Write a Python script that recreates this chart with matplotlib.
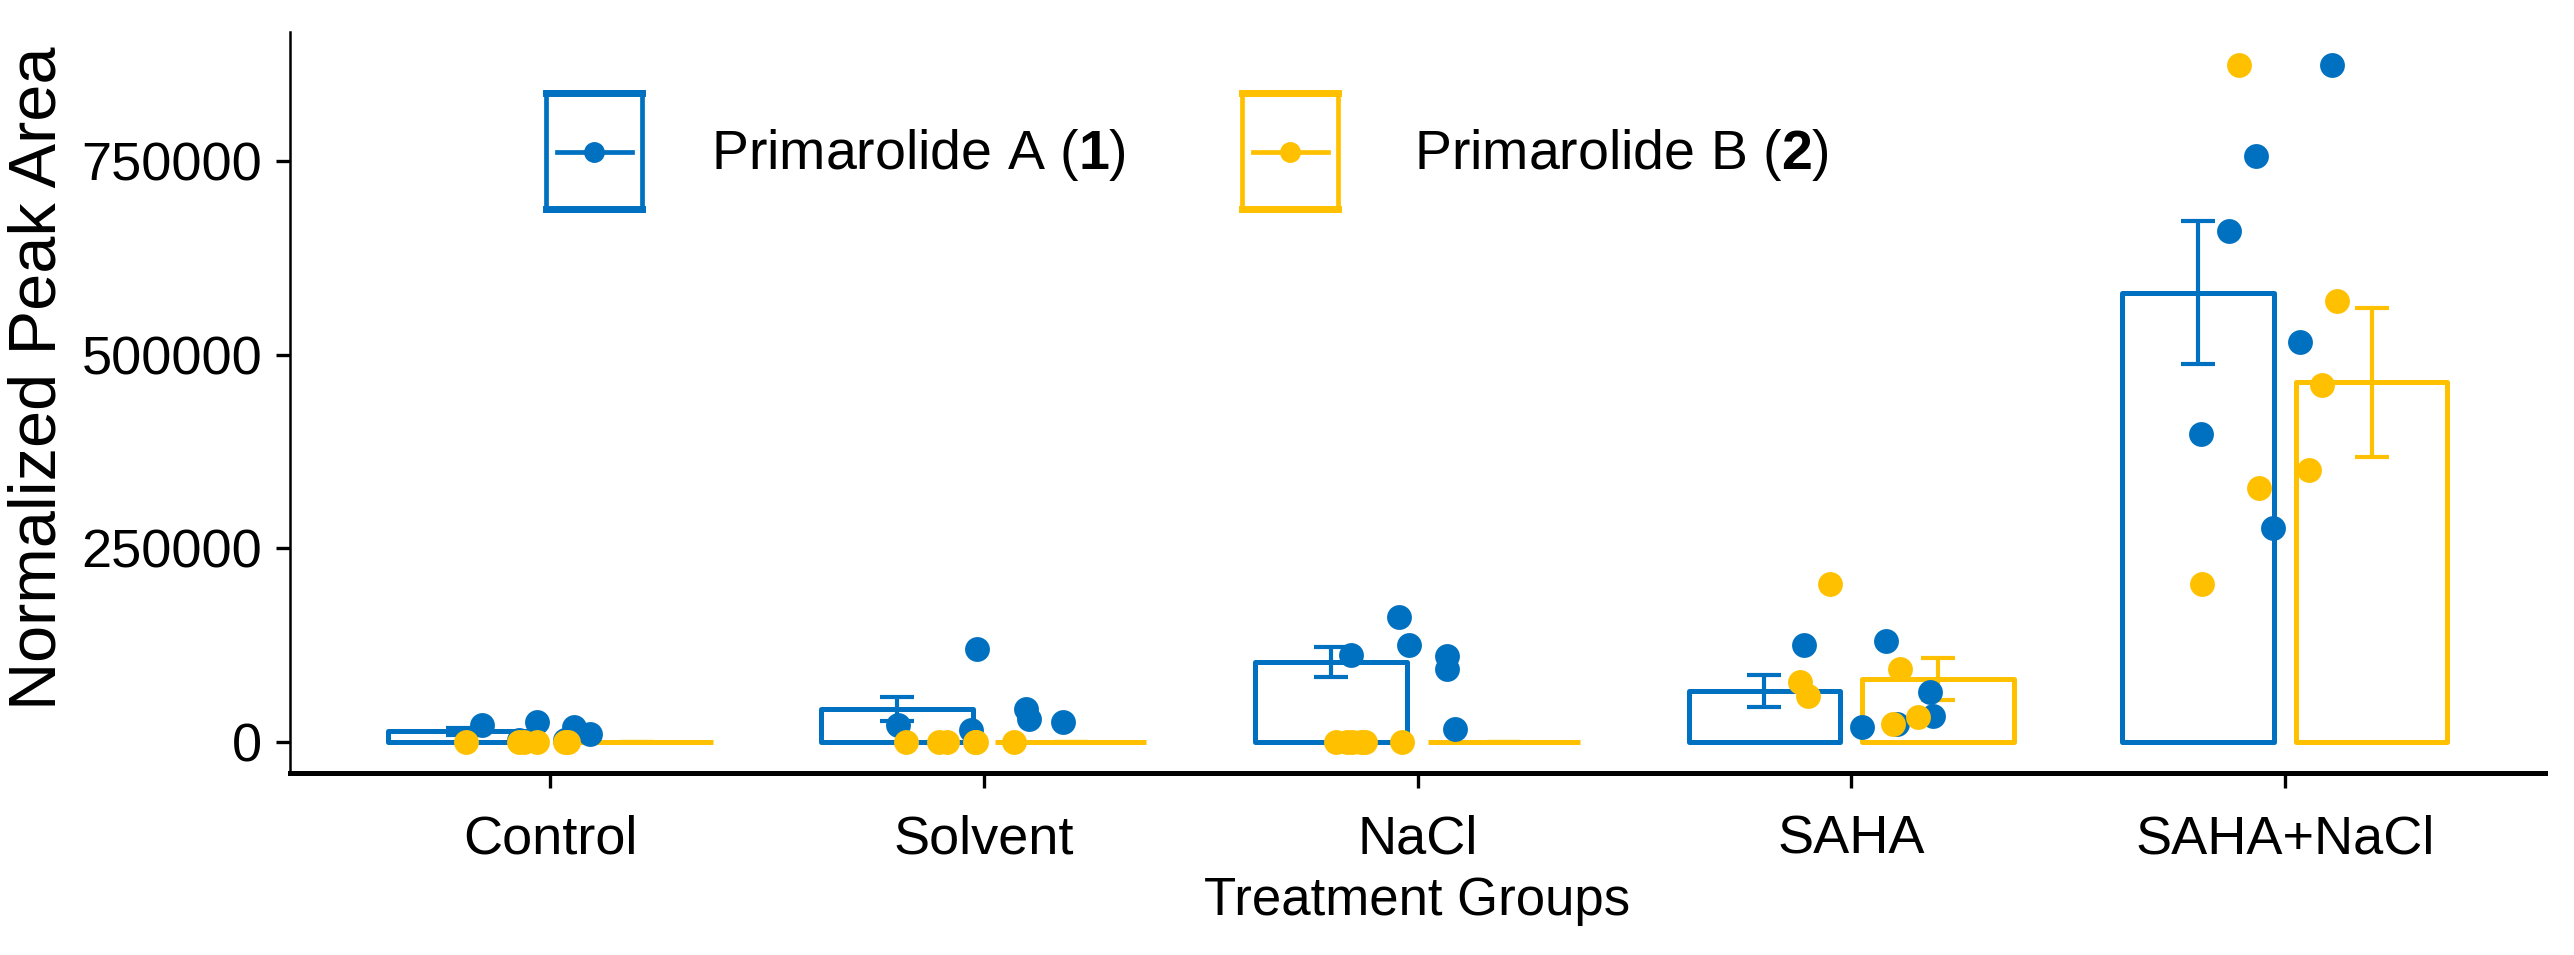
import numpy as np
import matplotlib.pyplot as plt
import matplotlib.ticker as ticker
from matplotlib.patches import Rectangle
from matplotlib.lines import Line2D

plt.rcParams["font.family"] = ["Liberation Sans", "DejaVu Sans"]
plt.rcParams["mathtext.fontset"] = "custom"
plt.rcParams["mathtext.rm"] = "Liberation Sans"
plt.rcParams["mathtext.bf"] = "Liberation Sans:bold"

groups = ["Control", "Solvent", "NaCl", "SAHA", "SAHA+NaCl"]

# replicate values (jittered points)
prim_a_values = [
    [22000, 26000, 19000, 10000, 3000, 2000],
    [120000, 22000, 15000, 43000, 30000, 26000],
    [161000, 125000, 111000, 94000, 113000, 17000],
    [125000, 131000, 19000, 64000, 34000, 23000],
    [874000, 757000, 660000, 517000, 398000, 276000],
]
prim_a_jitter = [
    [-0.158, -0.031, 0.054, 0.092, 0.035, -0.073],
    [-0.015, -0.198, -0.030, 0.097, 0.105, 0.182],
    [-0.042, -0.020, 0.068, 0.068, -0.154, 0.087],
    [-0.109, 0.080, 0.024, 0.181, 0.189, 0.105],
    [0.108, -0.067, -0.129, 0.034, -0.193, -0.028],
]
prim_b_values = [
    [0, 0, 0, 0, 0, 0],
    [0, 0, 0, 0, 0, 0],
    [0, 0, 0, 0, 0, 0],
    [204000, 94000, 77000, 60000, 23000, 32000],
    [874000, 569000, 461000, 351000, 328000, 204000],
]
prim_b_jitter = [
    [-0.193, -0.073, -0.031, 0.035, -0.060, 0.040],
    [-0.179, -0.103, -0.084, -0.018, 0.070, -0.020],
    [-0.189, -0.162, -0.131, -0.120, -0.035, -0.150],
    [-0.049, 0.112, -0.118, -0.099, 0.097, 0.155],
    [-0.106, 0.120, 0.085, 0.055, -0.060, -0.191],
]
series_names = ["Primarolide A ($\\mathbf{1}$)", "Primarolide B ($\\mathbf{2}$)"]
yticks = [0, 250000, 500000, 750000]

blue = "#0070C0"
yellow = "#FFC000"
colors = [blue, yellow]

W, H = 2574, 955
fig = plt.figure(figsize=(W / 100, H / 100), dpi=100)
ax = fig.add_axes([290 / W, 1 - 773 / H, 2255 / W, 741 / H])

x = np.arange(1, len(groups) + 1)
offsets = [-0.2, 0.2]

for values, color, off in zip([prim_a_values, prim_b_values], colors, offsets):
    vals = [np.array(v, dtype=float) for v in values]
    means = np.array([v.mean() for v in vals])
    se = np.array([v.std(ddof=1) / np.sqrt(len(v)) for v in vals])

    ax.bar(x + off, means, width=0.35, facecolor="none", edgecolor=color,
           linewidth=3.6, joinstyle="round", zorder=2)
    ax.errorbar(x + off, means, yerr=se, fmt="none", ecolor=color,
                elinewidth=3.0, capsize=12, capthick=3.0, zorder=3)

for values, jitter, color in zip([prim_a_values, prim_b_values],
                                 [prim_a_jitter, prim_b_jitter], colors):
    for i in range(len(groups)):
        ax.scatter(x[i] + np.array(jitter[i]), values[i], s=320, color=color,
                   linewidths=0, zorder=4)

ax.set_xlim(0.4, 5.6)
ax.set_ylim(-40000, 917000)
ax.set_xticks(x)
ax.set_xticklabels(groups)
ax.set_yticks(yticks)
ax.yaxis.set_major_formatter(ticker.FuncFormatter(lambda v, p: f"{v:.0f}"))

for side in ["top", "right"]:
    ax.spines[side].set_visible(False)
ax.spines["left"].set_linewidth(1.8)
ax.spines["bottom"].set_linewidth(3.6)

ax.tick_params(axis="x", length=11, width=2.4, labelsize=39, pad=19)
ax.tick_params(axis="y", length=10, width=2.4, labelsize=39, pad=10)

ax.set_xlabel("Treatment Groups", fontsize=38, va="top")
ax.xaxis.set_label_coords(0.5, -0.139)
ax.set_ylabel("Normalized Peak Area", fontsize=48)
ax.yaxis.set_label_coords(-0.098, 0.533)

# legend drawn by hand: outlined box with an errorbar-like line and a point
def fx(px):
    return px / W


def fy(py):
    return 1 - py / H


key_left = [546, 1242]
text_left = [711, 1414]
for kl, tl, color, name in zip(key_left, text_left, colors, series_names):
    fig.add_artist(Rectangle((fx(kl), fy(210)), fx(96), 118 / H,
                             transform=fig.transFigure, facecolor="none",
                             edgecolor=color, linewidth=3.4))
    fig.add_artist(Line2D([fx(kl), fx(kl + 96)], [fy(93), fy(93)],
                          transform=fig.transFigure, color=color, linewidth=5))
    fig.add_artist(Line2D([fx(kl), fx(kl + 96)], [fy(209), fy(209)],
                          transform=fig.transFigure, color=color, linewidth=5))
    fig.add_artist(Line2D([fx(kl + 11), fx(kl + 86)], [fy(152), fy(152)],
                          transform=fig.transFigure, color=color, linewidth=3.4))
    fig.add_artist(Line2D([fx(kl + 48)], [fy(152)], transform=fig.transFigure,
                          color=color, marker="o", markersize=14, linewidth=0))
    fig.text(fx(tl), fy(155), name, fontsize=40, ha="left", va="center")

fig.savefig("out.png", dpi=100)
